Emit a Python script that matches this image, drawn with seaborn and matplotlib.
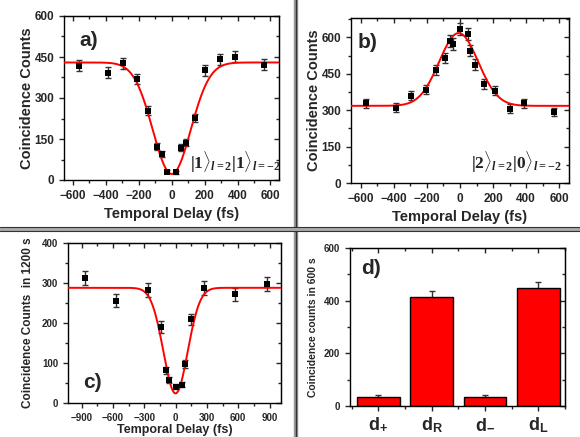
import numpy as np
import pandas as pd
import matplotlib
matplotlib.use("Agg")
import matplotlib.pyplot as plt
import seaborn as sns
from matplotlib.ticker import MultipleLocator
from matplotlib.lines import Line2D

# panel a) |1>|1>  (dip)
a_delay = [-563, -386, -299, -209, -145, -92, -60, -30, 26, 58, 86, 139, 203, 293, 382, 563]
a_counts = [418, 393, 427, 370, 254, 122, 94, 30, 28, 118, 137, 228, 401, 441, 451, 421]
a_err = [20, 20, 20, 19, 17, 12, 11, 6, 6, 12, 12, 15, 20, 21, 21, 20]
a_fit = [430, 408, 0, 115]   # baseline, depth, centre, sigma

# panel b) |2>|0>  (peak)
b_delay = [-569, -389, -298, -208, -145, -89, -60, -44, 0, 46, 60, 91, 145, 210, 302, 389, 569]
b_counts = [329, 311, 360, 385, 466, 515, 586, 574, 634, 614, 545, 487, 407, 380, 307, 329, 294]
b_err = [18, 18, 19, 19, 21, 22, 24, 24, 25, 24, 23, 22, 20, 19, 17, 18, 17]
b_fit = [318, 300, -8, 118]

# panel c) counts in 1200 s
c_delay = [-869, -572, -268, -144, -93, -61, 0, 61, 89, 147, 272, 569, 872]
c_counts = [312, 256, 283, 190, 82, 58, 41, 46, 98, 209, 287, 272, 297]
c_err = [17, 16, 17, 14, 9, 8, 6, 7, 10, 14, 17, 16, 17]
c_fit = [288, 264, 0, 116]

# panel d) counts in 600 s
d_labels = [r"$\mathbf{d}_{\mathbf{+}}$", r"$\mathbf{d}_{\mathbf{R}}$",
            r"$\mathbf{d}_{\mathbf{-}}$", r"$\mathbf{d}_{\mathbf{L}}$"]
d_counts = [35, 415, 33, 450]
d_err = [5, 20, 7, 20]

sns.set_style("ticks")
plt.rcParams["font.family"] = ["Liberation Sans", "DejaVu Sans"]
plt.rcParams["font.weight"] = "bold"
plt.rcParams["axes.labelweight"] = "bold"
plt.rcParams["mathtext.fontset"] = "custom"
plt.rcParams["mathtext.rm"] = "Liberation Serif"
plt.rcParams["mathtext.it"] = "Liberation Serif:italic"
plt.rcParams["mathtext.bf"] = "Liberation Sans:bold"

fig = plt.figure(figsize=(5.8, 4.37), dpi=100)
W, H = 580.0, 437.0


def box(l, r, t, b):
    return [l / W, 1 - b / H, (r - l) / W, (b - t) / H]


def style(ax, fs, xmaj, xmin, ymaj, ymin):
    ax.xaxis.set_major_locator(MultipleLocator(xmaj))
    ax.xaxis.set_minor_locator(MultipleLocator(xmin))
    ax.yaxis.set_major_locator(MultipleLocator(ymaj))
    ax.yaxis.set_minor_locator(MultipleLocator(ymin))
    ax.tick_params(which="both", direction="out", labelsize=fs, width=1)
    ax.tick_params(which="major", length=3.5)
    ax.tick_params(which="minor", length=2)
    for lab in ax.get_xticklabels() + ax.get_yticklabels():
        lab.set_fontweight("bold")
    for s in ax.spines.values():
        s.set_linewidth(1)
        s.set_color("black")
    # inward ticks on top and right, without labels
    top = ax.secondary_xaxis("top")
    right = ax.secondary_yaxis("right")
    top.xaxis.set_major_locator(MultipleLocator(xmaj))
    top.xaxis.set_minor_locator(MultipleLocator(xmin))
    right.yaxis.set_major_locator(MultipleLocator(ymaj))
    right.yaxis.set_minor_locator(MultipleLocator(ymin))
    for sec in (top, right):
        sec.tick_params(which="both", direction="in", width=1,
                        labeltop=False, labelright=False)
        sec.tick_params(which="major", length=3.5)
        sec.tick_params(which="minor", length=2)
    return top, right


def delay_panel(ax, delay, counts, err, fit, sign, xlim):
    x = np.linspace(xlim[0], xlim[1], 600)
    base, amp, c0, sig = fit
    y = base + sign * amp * np.exp(-(x - c0) ** 2 / (2 * sig ** 2))
    ax.errorbar(delay, counts, yerr=err, fmt="none", ecolor="#333333",
                elinewidth=1, capsize=2, capthick=1, zorder=2)
    sns.lineplot(x=x, y=y, color="red", lw=1.4, ax=ax, zorder=3)
    sns.scatterplot(x=delay, y=counts, marker="s", color="black", s=18,
                    edgecolor="black", linewidth=0, ax=ax, zorder=4)
    ax.set_xlim(*xlim)


# a)
ax1 = fig.add_axes(box(64, 279, 16, 180))
delay_panel(ax1, a_delay, a_counts, a_err, a_fit, -1, (-655, 652))
ax1.set_ylim(0, 600)
ax1.set_xlabel("Temporal Delay (fs)", fontsize=10.5, labelpad=4)
ax1.set_ylabel("Coincidence Counts", fontsize=10.5, labelpad=0)
style(ax1, 8.5, 200, 100, 150, 75)
ax1.text(0.07, 0.85, "a)", transform=ax1.transAxes, fontsize=15, fontweight="bold", va="center")
ax1.text(0.585, 0.11, r"$|1\rangle_{l=2}|1\rangle_{l=-2}$", transform=ax1.transAxes,
         fontsize=12.5, fontweight="normal", color="#222222", va="center")

# b)
ax2 = fig.add_axes(box(351, 569, 18, 183))
delay_panel(ax2, b_delay, b_counts, b_err, b_fit, 1, (-660, 660))
ax2.set_ylim(0, 680)
ax2.set_xlabel("Temporal Delay (fs)", fontsize=10.5, labelpad=4)
ax2.set_ylabel("Coincidence Counts", fontsize=10.5, labelpad=0)
style(ax2, 8.5, 200, 100, 150, 75)
ax2.text(0.03, 0.85, "b)", transform=ax2.transAxes, fontsize=15, fontweight="bold", va="center")
ax2.text(0.55, 0.125, r"$|2\rangle_{l=2}|0\rangle_{l=-2}$", transform=ax2.transAxes,
         fontsize=12.5, fontweight="normal", color="#222222", va="center")

# c)
ax3 = fig.add_axes(box(68, 281, 243, 403))
delay_panel(ax3, c_delay, c_counts, c_err, c_fit, -1, (-1030, 1010))
ax3.set_ylim(0, 400)
ax3.set_xlabel("Temporal Delay (fs)", fontsize=9, labelpad=1)
ax3.set_ylabel("Coincidence Counts  in 1200 s", fontsize=8.5, labelpad=6)
style(ax3, 7, 300, 150, 100, 50)
ax3.text(0.07, 0.125, "c)", transform=ax3.transAxes, fontsize=15, fontweight="bold", va="center")

# d)
ax4 = fig.add_axes(box(350, 565, 248, 406))
d_df = pd.DataFrame({"state": d_labels, "counts": d_counts})
ax4.errorbar(range(4), d_counts, yerr=d_err, fmt="none", ecolor="#333333",
             elinewidth=1, capsize=2, capthick=1, zorder=1)
sns.barplot(data=d_df, x="state", y="counts", color="red", saturation=1,
            edgecolor="black", linewidth=1, width=0.8, errorbar=None, ax=ax4, zorder=2)
ax4.set_xlim(-0.53, 3.5)
ax4.set_ylim(0, 600)
ax4.set_xlabel("")
ax4.set_ylabel("Coincidence counts in 600 s", fontsize=7.5, labelpad=4)
style(ax4, 7, 1, 0.5, 200, 100)
ax4.set_xticks(range(4))
ax4.set_xticklabels(d_labels)
ax4.tick_params(axis="x", which="major", labelsize=13)
ax4.text(0.05, 0.87, "d)", transform=ax4.transAxes, fontsize=15, fontweight="bold", va="center")

# panel dividers
vx = 295.5 / W
hy = 1 - 229 / H
fig.add_artist(Line2D([vx, vx], [0, 1], transform=fig.transFigure, color="#999999", lw=3.2))
fig.add_artist(Line2D([vx, vx], [0, 1], transform=fig.transFigure, color="#333333", lw=1))
fig.add_artist(Line2D([0, 1], [hy, hy], transform=fig.transFigure, color="#aaaaaa", lw=3.6))
fig.add_artist(Line2D([0, 1], [hy + 1.6 / H, hy + 1.6 / H], transform=fig.transFigure, color="#333333", lw=0.8))
fig.add_artist(Line2D([0, 1], [hy - 1.6 / H, hy - 1.6 / H], transform=fig.transFigure, color="#333333", lw=0.8))

fig.savefig("out.png", dpi=100, facecolor="white")
